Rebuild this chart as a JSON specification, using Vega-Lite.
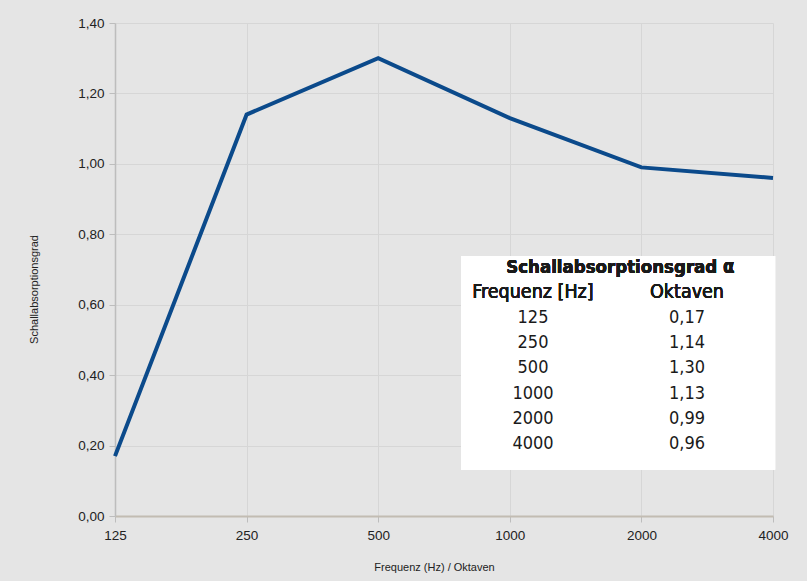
{
  "$schema": "https://vega.github.io/schema/vega-lite/v6.json",
  "width": 658,
  "height": 493,
  "autosize": {"type": "none"},
  "padding": {"left": 115, "top": 23, "right": 34, "bottom": 65},
  "background": "#e5e5e5",
  "config": {
    "view": {"stroke": null},
    "font": "Liberation Sans",
    "axis": {
      "labelFont": "Liberation Sans",
      "titleFont": "Liberation Sans",
      "labelFontSize": 13.5,
      "labelColor": "#222222",
      "titleFontSize": 11,
      "titleFontWeight": "normal",
      "titleColor": "#222222",
      "gridColor": "#d6d6d6",
      "gridWidth": 1,
      "tickColor": "#bdbdbd",
      "tickSize": 6,
      "labelFlush": false
    }
  },
  "datasets": {
    "alpha": [
      {"freq": 125, "label": "125", "value": 0.17, "valtext": "0,17"},
      {"freq": 250, "label": "250", "value": 1.14, "valtext": "1,14"},
      {"freq": 500, "label": "500", "value": 1.30, "valtext": "1,30"},
      {"freq": 1000, "label": "1000", "value": 1.13, "valtext": "1,13"},
      {"freq": 2000, "label": "2000", "value": 0.99, "valtext": "0,99"},
      {"freq": 4000, "label": "4000", "value": 0.96, "valtext": "0,96"}
    ]
  },
  "data": {"name": "alpha"},
  "resolve": {"scale": {"y": "independent"}},
  "layer": [
    {
      "layer": [
        {
          "mark": {"type": "line", "color": "#0b4a8b", "strokeWidth": 4, "strokeJoin": "miter"},
          "encoding": {
            "x": {
              "field": "freq",
              "type": "quantitative",
              "scale": {"type": "log", "base": 2, "domain": [125, 4000], "nice": false},
              "axis": {
                "values": [125, 250, 500, 1000, 2000, 4000],
                "format": "d",
                "title": "Frequenz (Hz) / Oktaven",
                "domainColor": "#c2bcb2",
                "domainWidth": 2,
                "labelPadding": 6,
                "labelFlush": false,
                "titleX": 319,
                "titleY": 45,
                "titleAnchor": "middle"
              }
            },
            "y": {
              "field": "value",
              "type": "quantitative",
              "scale": {"domain": [0, 1.4], "nice": false},
              "axis": {
                "values": [0, 0.2, 0.4, 0.6, 0.8, 1.0, 1.2, 1.4],
                "labelExpr": "replace(format(datum.value, '.2f'), '.', ',')",
                "title": "Schallabsorptionsgrad",
                "domainColor": "#bdbdbd",
                "domainWidth": 1.5,
                "labelPadding": 5,
                "titleX": -76,
                "titleY": 266,
                "titleAnchor": "middle"
              }
            }
          }
        },
        {
          "mark": {"type": "rect", "color": "white"},
          "encoding": {
            "x": {"datum": 774, "type": "quantitative"},
            "x2": {"datum": 4045},
            "y": {"datum": 0.738, "type": "quantitative"},
            "y2": {"datum": 0.131}
          }
        },
        {
          "mark": {"type": "text", "font": "DejaVu Sans Condensed", "fontSize": 18.5, "fontWeight": "bold", "color": "#1a1a1a", "baseline": "middle"},
          "encoding": {
            "x": {"datum": 1790, "type": "quantitative"},
            "y": {"datum": 0.708, "type": "quantitative"},
            "text": {"value": "Schallabsorptionsgrad α"}
          }
        },
        {
          "mark": {"type": "text", "font": "DejaVu Sans Condensed", "fontSize": 19.5, "color": "#1a1a1a", "baseline": "middle"},
          "encoding": {
            "x": {"datum": 1130, "type": "quantitative"},
            "y": {"datum": 0.636, "type": "quantitative"},
            "text": {"value": "Frequenz [Hz]"}
          }
        },
        {
          "mark": {"type": "text", "font": "DejaVu Sans Condensed", "fontSize": 19.5, "color": "#1a1a1a", "baseline": "middle"},
          "encoding": {
            "x": {"datum": 2543, "type": "quantitative"},
            "y": {"datum": 0.636, "type": "quantitative"},
            "text": {"value": "Oktaven"}
          }
        }
      ]
    },
    {
      "layer": [
        {
          "mark": {"type": "text", "font": "DejaVu Sans Condensed", "fontSize": 18, "color": "#1a1a1a", "baseline": "middle"},
          "encoding": {
            "x": {"datum": 1130, "type": "quantitative"},
            "y": {"field": "freq", "type": "ordinal", "sort": "ascending", "scale": {"type": "point", "range": [295, 421], "padding": 0}, "axis": null},
            "text": {"field": "label"}
          }
        },
        {
          "mark": {"type": "text", "font": "DejaVu Sans Condensed", "fontSize": 18, "color": "#1a1a1a", "baseline": "middle"},
          "encoding": {
            "x": {"datum": 2543, "type": "quantitative"},
            "y": {"field": "freq", "type": "ordinal", "sort": "ascending", "scale": {"type": "point", "range": [295, 421], "padding": 0}, "axis": null},
            "text": {"field": "valtext"}
          }
        }
      ]
    }
  ]
}
